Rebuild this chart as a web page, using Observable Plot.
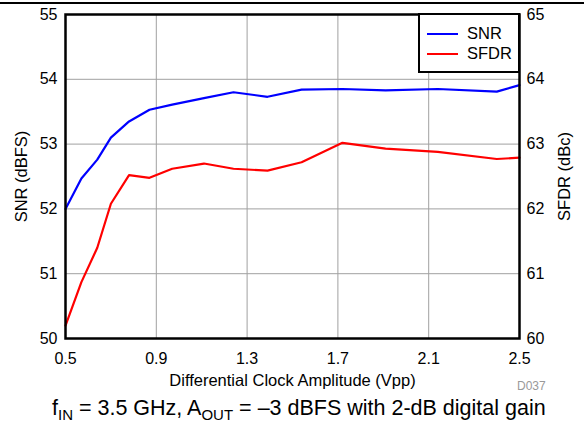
<!DOCTYPE html>
<html><head><meta charset="utf-8">
<script src="https://cdn.jsdelivr.net/npm/d3@7"></script>
<script src="https://cdn.jsdelivr.net/npm/@observablehq/plot@0.6"></script>
<style>
body{margin:0;background:#fff;font-family:"Liberation Sans",Arial,sans-serif;}
#wrap{position:relative;width:584px;height:426px;overflow:hidden;background:#fff}
#chart{position:absolute;left:0;top:0}
#rule{position:absolute;left:0;top:2px;width:584px;height:0;border-top:2px solid #000}
#legend{position:absolute;left:418px;top:13px;width:102px;height:60px;box-sizing:border-box;border:2.5px solid #000;background:#fff}
.li{position:absolute;left:7px;height:20px;font-size:16.5px;line-height:20px;color:#000;white-space:nowrap}
.li span.sw{display:inline-block;width:31px;height:0;border-top:2.5px solid;vertical-align:middle;margin-right:9px;position:relative;top:-1px}
#d037{position:absolute;left:517px;top:379px;font-size:12px;color:#999}
#caption{position:absolute;left:52px;top:396px;font-size:21.5px;color:#000;white-space:nowrap;line-height:24px}
#caption sub{font-size:15px;vertical-align:-5px;line-height:0}
</style></head><body>
<div id="wrap">
<div id="chart"></div>
<div id="rule"></div>
<div id="legend">
  <div class="li" style="top:8px"><span class="sw" style="border-color:#0000ff"></span>SNR</div>
  <div class="li" style="top:28px"><span class="sw" style="border-color:#ff0000"></span>SFDR</div>
</div>
<div id="d037">D037</div>
<div id="caption">f<sub>IN</sub> = 3.5 GHz, A<sub>OUT</sub> = –3 dBFS with 2-dB digital gain</div>
</div>
<script>
const clockVpp = [0.5, 0.57, 0.64, 0.7, 0.78, 0.87, 0.97, 1.11, 1.24, 1.39, 1.54, 1.72, 1.91, 2.14, 2.4, 2.5];
const snr      = [52.0, 52.47, 52.76, 53.10, 53.35, 53.53, 53.61, 53.71, 53.80, 53.73, 53.84, 53.85, 53.83, 53.85, 53.81, 53.91];
const sfdr     = [60.2, 60.87, 61.40, 62.08, 62.52, 62.48, 62.62, 62.70, 62.62, 62.59, 62.72, 63.02, 62.93, 62.88, 62.77, 62.79];
const xTicks = [0.5, 0.9, 1.3, 1.7, 2.1, 2.5];
const ySnrTicks = [50, 51, 52, 53, 54, 55];
const sfdrOffset = 10; // right axis 60–65 mapped onto left axis 50–55

const snrData = clockVpp.map((x, i) => ({x, y: snr[i]}));
const sfdrData = clockVpp.map((x, i) => ({x, y: sfdr[i] - sfdrOffset}));

const fontFam = '"Liberation Sans", Arial, sans-serif';
const chart = Plot.plot({
  width: 584,
  height: 392,
  marginLeft: 65,
  marginRight: 65,
  marginTop: 14,
  marginBottom: 54,
  style: {fontFamily: fontFam, fontSize: "16px", color: "#000", background: "transparent"},
  x: {domain: [0.5, 2.5]},
  y: {domain: [50, 55]},
  marks: [
    Plot.gridX(xTicks, {stroke: "#a0a0a0", strokeOpacity: 1, strokeWidth: 1}),
    Plot.gridY(ySnrTicks, {stroke: "#a0a0a0", strokeOpacity: 1, strokeWidth: 1}),
    Plot.line(snrData, {x: "x", y: "y", stroke: "#0000ff", strokeWidth: 2.2}),
    Plot.line(sfdrData, {x: "x", y: "y", stroke: "#ff0000", strokeWidth: 2.2}),
    Plot.frame({stroke: "#000", strokeWidth: 2.5}),
    Plot.axisX({ticks: xTicks, tickSize: 0, tickPadding: 14, tickFormat: d => d.toFixed(1), fontSize: 16, label: null}),
    Plot.axisX({ticks: [], tickSize: 0,
      label: "Differential Clock Amplitude (Vpp)", labelAnchor: "center", labelArrow: "none", labelOffset: 47, fontSize: 16.5}),
    Plot.axisY({ticks: ySnrTicks, anchor: "left", tickSize: 0, tickPadding: 8, tickFormat: d => String(d), fontSize: 16, label: null}),
    Plot.axisY({ticks: [], anchor: "left", tickSize: 0,
      label: "SNR (dBFS)", labelAnchor: "center", labelArrow: "none", labelOffset: 50, fontSize: 16.5}),
    Plot.axisY({ticks: ySnrTicks, anchor: "right", tickSize: 0, tickPadding: 7, tickFormat: d => String(d + sfdrOffset), fontSize: 16, label: null}),
    Plot.axisY({ticks: [], anchor: "right", tickSize: 0,
      label: "SFDR (dBc)", labelAnchor: "center", labelArrow: "none", labelOffset: 50, fontSize: 16.5})
  ]
});
document.getElementById("chart").appendChild(chart);
</script>
</body></html>
